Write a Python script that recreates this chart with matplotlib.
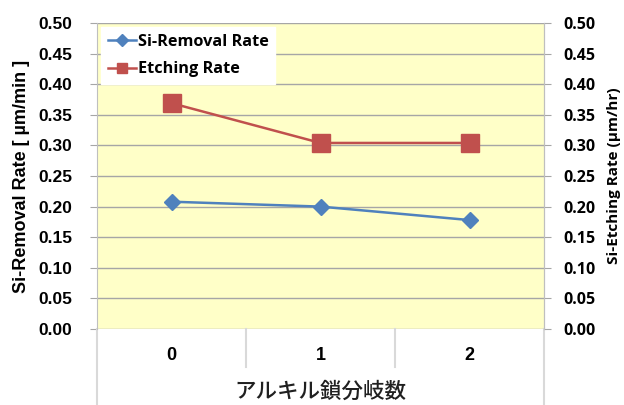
import matplotlib
matplotlib.use("Agg")
import matplotlib.pyplot as plt
import matplotlib.transforms as mtransforms

# branch count categories and the two measured rates
branches = ['0', '1', '2']
removal_rate = [0.208, 0.200, 0.178]   # um/min
etching_rate = [0.369, 0.304, 0.304]   # um/hr
yticks = [0.00, 0.05, 0.10, 0.15, 0.20, 0.25, 0.30, 0.35, 0.40, 0.45, 0.50]

blue = '#4F81BD'
red = '#C0504D'
grid_col = '#A6A6A6'
edge_col = '#BFBFBF'

fig = plt.figure(figsize=(6.24, 4.05), dpi=100)
ax = fig.add_axes([97 / 624, 76 / 405, 447 / 624, 306 / 405])
ax.set_facecolor('#FFFFC8')

x = list(range(len(branches)))
ax.set_xlim(-0.5, len(branches) - 0.5)
ax.set_ylim(0, 0.5)

# horizontal grid
for y in yticks:
    ax.axhline(y, color=grid_col, lw=1.0, zorder=1)

for s in ['top', 'bottom']:
    ax.spines[s].set_visible(False)
ax.spines['left'].set_color(edge_col)
ax.spines['right'].set_color(edge_col)

ax.set_yticks(yticks)
ax.set_yticklabels([f'{v:.2f}' for v in yticks], fontfamily='Liberation Sans',
                   fontweight='bold', fontsize=12.5)
ax.tick_params(axis='y', direction='out', length=5, color=grid_col, pad=13)

# category axis: labels centred, separators between categories
ax.set_xticks(x)
ax.set_xticklabels(branches, fontfamily='Liberation Sans', fontweight='bold', fontsize=13)
ax.tick_params(axis='x', length=0, pad=13)
trans = mtransforms.blended_transform_factory(ax.transData, ax.transAxes)
for b in [0.5, 1.5]:
    ax.plot([b, b], [0, -0.125], color='#D9D9D9', lw=1.5, transform=trans, clip_on=False)
for b in [-0.5, len(branches) - 0.5]:
    ax.plot([b, b], [0, -0.26], color='#D9D9D9', lw=1.5, transform=trans, clip_on=False)

ax.set_xlabel('アルキル鎖分岐数', fontfamily='Noto Sans CJK JP', fontweight='medium',
              fontsize=15.5, labelpad=12, color='#202020')
ax.set_ylabel('Si-Removal Rate [ µm/min ]', fontfamily='Liberation Sans',
              fontweight='bold', fontsize=13, labelpad=6)

l1, = ax.plot(x, removal_rate, color=blue, lw=1.8, marker='D', markersize=8.5,
              label='Si-Removal Rate', zorder=3)

ax2 = ax.twinx()
ax2.set_ylim(0, 0.5)
ax2.set_yticks(yticks)
ax2.set_yticklabels([f'{v:.2f}' for v in yticks], fontfamily='Open Sans',
                    fontweight='bold', fontsize=11.5)
ax2.tick_params(axis='y', direction='out', length=5, color=grid_col, pad=9)
for s in ['top', 'bottom', 'left']:
    ax2.spines[s].set_visible(False)
ax2.spines['right'].set_color(edge_col)
ax2.set_ylabel('Si-Etching Rate (µm/hr)', fontfamily='Open Sans', fontweight='bold',
               fontsize=11, labelpad=8)

l2, = ax2.plot(x, etching_rate, color=red, lw=1.8, marker='s', markersize=12.5,
               label='Etching Rate', zorder=3)

leg = ax2.legend(handles=[l1, l2], loc='upper left', bbox_to_anchor=(0.0, 1.0),
                 frameon=True, fancybox=False, framealpha=1, edgecolor='white',
                 prop={'family': 'Open Sans', 'weight': 'bold', 'size': 11.7},
                 handlelength=1.75, handletextpad=0.1, borderpad=0.4,
                 labelspacing=0.72, borderaxespad=0.25)
leg.legend_handles[0].set_markersize(6)
leg.legend_handles[1].set_markersize(7.5)

fig.savefig('out.png', dpi=100)
